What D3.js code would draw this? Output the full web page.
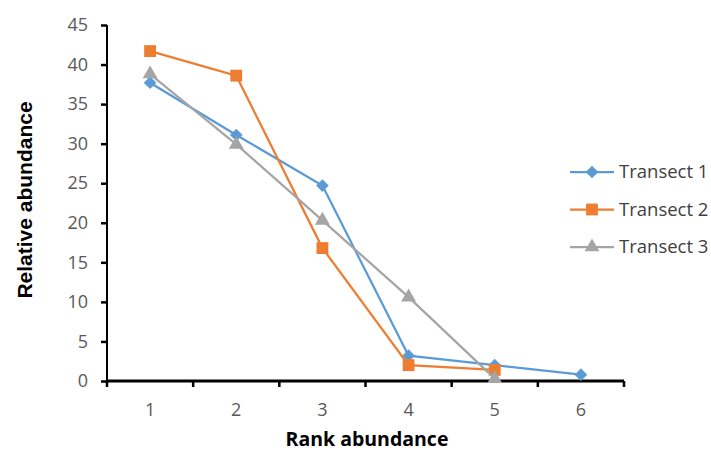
<!DOCTYPE html>
<html>
<head>
<meta charset="utf-8">
<script src="https://cdn.jsdelivr.net/npm/d3@7"></script>
<style>
  body { margin: 0; background: #fff; }
  svg { display: block; font-family: "Open Sans", sans-serif; }
</style>
</head>
<body>
<div id="chart"></div>
<script>
(function() {

const width = 711,
height = 453;

// data
const ranks = [1, 2, 3, 4, 5, 6];
const transect1 = [37.7, 31.1, 24.7, 3.2, 2.0, 0.8];
const transect2 = [41.7, 38.6, 16.8, 2.0, 1.4];
const transect3 = [38.8, 29.9, 20.3, 10.6, 0.3];
const yTicks = [0, 5, 10, 15, 20, 25, 30, 35, 40, 45];

// diamond = square turned 45 degrees, like Excel's marker
const diamond = {
  draw(ctx, size) {
    const r = Math.sqrt(size / 2);
    ctx.moveTo(0, -r);
    ctx.lineTo(r, 0);
    ctx.lineTo(0, r);
    ctx.lineTo(-r, 0);
    ctx.closePath();
  }
};

const series = [
  { name: "Transect 1", values: transect1, color: "#5B9BD5", shape: diamond, size: 80 },
  { name: "Transect 2", values: transect2, color: "#ED7D31", shape: d3.symbolSquare, size: 140 },
  { name: "Transect 3", values: transect3, color: "#A5A5A5", shape: d3.symbolTriangle, size: 95 }
];

const margin = { top: 25, left: 107, right: 87, bottom: 72 };

const svg = d3.select("#chart")
  .append("svg")
  .attr("width", width)
  .attr("height", height);

const x = d3.scaleBand()
  .domain(ranks)
  .range([margin.left, width - margin.right]);

const y = d3.scaleLinear()
  .domain([0, 45])
  .range([height - margin.bottom, margin.top]);

// y axis
const yAxis = svg.append("g")
  .attr("transform", `translate(${margin.left},0)`)
  .call(d3.axisLeft(y).tickValues(yTicks).tickSize(6).tickPadding(13));
yAxis.select(".domain").attr("stroke", "#000").attr("stroke-width", 2).attr("d", `M0,${y(0)}V${y(45)}`);
yAxis.selectAll(".tick line").attr("stroke", "#000").attr("stroke-width", 2.5);
yAxis.selectAll(".tick text").attr("fill", "#595959").attr("font-size", 18).attr("font-family", "Open Sans");

// x axis, ticks between categories like Excel
const xAxis = svg.append("g")
  .attr("transform", `translate(0,${y(0)})`);
xAxis.append("path")
  .attr("stroke", "#000")
  .attr("stroke-width", 3)
  .attr("d", `M${margin.left},0H${width - margin.right}`);
const bounds = ranks.map(r => x(r)).concat([x(ranks[ranks.length - 1]) + x.bandwidth()]);
xAxis.selectAll("line.tk")
  .data(bounds)
  .join("line")
  .attr("class", "tk")
  .attr("x1", d => d).attr("x2", d => d)
  .attr("y1", 0).attr("y2", 6)
  .attr("stroke", "#000")
  .attr("stroke-width", 2.5);
xAxis.selectAll("text")
  .data(ranks)
  .join("text")
  .attr("x", d => x(d) + x.bandwidth() / 2)
  .attr("y", 35)
  .attr("text-anchor", "middle")
  .attr("fill", "#595959")
  .attr("font-size", 18)
  .text(d => d);

// axis titles
svg.append("text")
  .attr("x", 367)
  .attr("y", 446)
  .attr("text-anchor", "middle")
  .attr("font-size", 19.5)
  .attr("font-weight", "bold")
  .attr("fill", "#000")
  .text("Rank abundance");

svg.append("text")
  .attr("transform", "translate(32,200) rotate(-90)")
  .attr("text-anchor", "middle")
  .attr("font-family", "Liberation Sans, Arial, sans-serif")
  .attr("font-size", 21)
  .attr("font-weight", "bold")
  .attr("fill", "#000")
  .text("Relative abundance");

const line = d3.line()
  .x((d, i) => x(ranks[i]) + x.bandwidth() / 2)
  .y(d => y(d));

for (let s of series) {
  svg.append("path")
    .datum(s.values)
    .attr("fill", "none")
    .attr("stroke", s.color)
    .attr("stroke-width", 2.25)
    .attr("d", line);

  svg.append("g")
    .selectAll("path")
    .data(s.values)
    .join("path")
    .attr("transform", (d, i) => `translate(${x(ranks[i]) + x.bandwidth() / 2},${y(d)})`)
    .attr("d", d3.symbol(s.shape, s.size))
    .attr("fill", s.color);
}

// legend
const legend = svg.append("g")
  .selectAll("g")
  .data(series)
  .join("g")
  .attr("transform", (d, i) => `translate(570,${172 + i * 37.5})`);

legend.append("line")
  .attr("x1", 0).attr("x2", 44)
  .attr("stroke", d => d.color)
  .attr("stroke-width", 2.25);

legend.append("path")
  .attr("transform", "translate(22,0)")
  .attr("d", d => d3.symbol(d.shape, d.size)())
  .attr("fill", d => d.color);

legend.append("text")
  .attr("x", 49)
  .attr("dy", "0.35em")
  .attr("font-size", 18.5)
  .attr("fill", "#404040")
  .text(d => d.name);

})();
</script>
</body>
</html>
